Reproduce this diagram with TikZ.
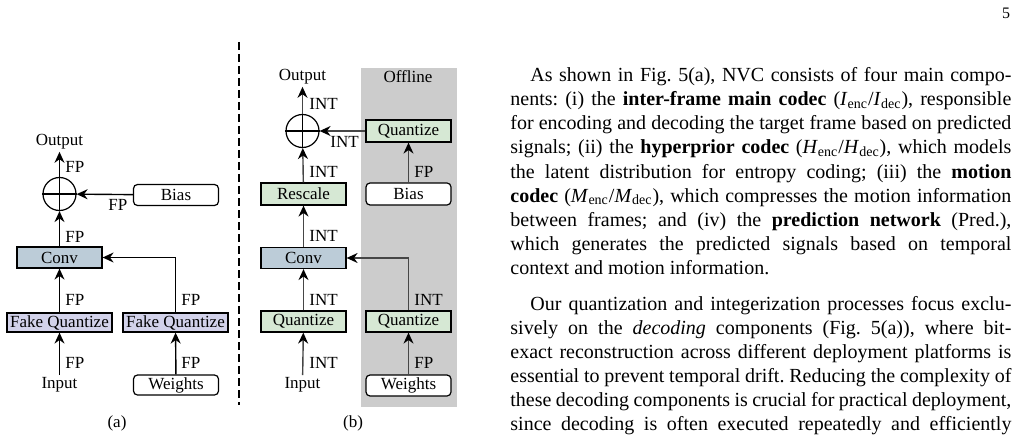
\documentclass[tikz,border=0pt]{standalone}
\usepackage{fontspec}
\setmainfont{Liberation Serif}
\usetikzlibrary{arrows.meta,calc}
\definecolor{convc}{RGB}{188,204,216}
\definecolor{fqc}{RGB}{210,210,234}
\definecolor{qc}{RGB}{214,232,212}
\definecolor{offc}{RGB}{204,204,204}
\definecolor{linec}{RGB}{70,70,70}
\frenchspacing
\begin{document}
\begin{tikzpicture}[x=0.5pt,y=-0.5pt,
 fig/.style={font=\fontsize{8.5}{10}\selectfont},
 blk/.style={fig, draw=black, line width=0.6pt, minimum width=42.5pt, minimum height=10.5pt, inner sep=0pt},
 rbox/.style={blk, rounded corners=2pt, fill=white},
 txt/.style={fig, inner sep=1pt},
 lbl/.style={fig, inner sep=0pt, anchor=west},
 arr/.style={-{Stealth[length=5.5pt,width=5pt,inset=1.8pt,color=black]}, line width=0.7pt},
 arrb/.style={arr, draw=linec},
 plus/.style={draw, circle, minimum size=16.5pt, inner sep=0pt, line width=0.6pt},
 body/.style={font=\fontsize{10}{12}\selectfont, inner sep=0pt, anchor=base west}
]
\useasboundingbox (0,0) rectangle (1020,443);

% ---------------- panel (a)
\node[txt] (outA) at (59.5,142) {Output};
\node[plus] (plusA) at (59.5,194) {};
\draw[line width=0.6pt] (plusA.north) -- (plusA.south) (plusA.west) -- (plusA.east);
\node[rbox] (biasA) at (176,195) {Bias};
\node[blk, fill=convc] (convA) at (59.5,257.5) {Conv};
\node[blk, fill=fqc, minimum width=52.5pt, minimum height=9.5pt] (fqA1) at (59.5,322.5) {Fake Quantize};
\node[blk, fill=fqc, minimum width=52.5pt, minimum height=9.5pt] (fqA2) at (175.5,322.5) {Fake Quantize};
\node[txt] (inA) at (59.5,385) {Input};
\node[rbox, minimum height=10pt] (wA) at (176,385) {Weights};
\node[txt] (capA) at (117,423) {(a)};

\draw[arr] (inA) -- (fqA1);
\draw[arr] (fqA1) -- (convA);
\draw[arr] (convA) -- (plusA);
\draw[arr] (plusA) -- (outA);
\draw[arr] (biasA) -- (plusA);
\draw[arr] (wA) -- (fqA2);
\draw[arr] (fqA2.north) |- (convA.east);

\node[lbl] (la1) at (65,363) {FP};
\node[lbl] (la2) at (65,300) {FP};
\node[lbl] (la3) at (65,237) {FP};
\node[lbl] (la4) at (65,167) {FP};
\node[lbl] (la5) at (108,205) {FP};
\node[lbl] (la6) at (181,363) {FP};
\node[lbl] (la7) at (181,300) {FP};

% dashed separator
\coordinate (sepT) at (239,42);
\coordinate (sepB) at (239,405);
\draw[line width=1pt, dash pattern=on 4pt off 2pt] (sepT) -- (sepB);

% ---------------- panel (b)
\fill[offc] (361,68) rectangle (457,407);
\node[txt] (offl) at (408,77) {Offline};
\node[txt] (outB) at (302.5,77) {Output};
\node[plus] (plusB) at (302.5,131) {};
\draw[line width=0.6pt] (plusB.north) -- (plusB.south) (plusB.west) -- (plusB.east);
\node[blk, fill=qc, minimum height=11pt] (qT) at (408.5,131) {Quantize};
\node[blk, fill=qc, minimum height=11pt] (resc) at (303.5,194) {Rescale};
\node[rbox, minimum height=11pt] (biasB) at (408.5,194) {Bias};
\node[blk, fill=convc] (convB) at (303.5,258) {Conv};
\node[blk, fill=qc] (qB1) at (303.5,321.5) {Quantize};
\node[blk, fill=qc] (qB2) at (408.5,321.5) {Quantize};
\node[txt] (inB) at (302.5,385) {Input};
\node[rbox] (wB) at (408.5,385.5) {Weights};
\node[txt] (capB) at (353,423) {(b)};

\draw[arrb] (inB) -- (qB1);
\draw[arrb] (qB1) -- (convB);
\draw[arrb] (convB) -- (resc);
\draw[arrb] (resc) -- (plusB);
\draw[arrb] (plusB) -- (outB);
\draw[arrb] (qT) -- (plusB);
\draw[arrb] (biasB) -- (qT);
\draw[arrb] (wB) -- (qB2);
\draw[arrb] (qB2.north) |- (convB.east);

\node[lbl] (lb1) at (309,363) {INT};
\node[lbl] (lb2) at (309,300) {INT};
\node[lbl] (lb3) at (309,236) {INT};
\node[lbl] (lb4) at (309,172) {INT};
\node[lbl] (lb5) at (309,104) {INT};
\node[lbl] (lb6) at (330,142) {INT};
\node[lbl] (lb7) at (414,172) {FP};
\node[lbl] (lb8) at (414,363) {FP};
\node[lbl] (lb9) at (414,300) {INT};

% ---------------- body text
\node[font=\fontsize{8}{10}\selectfont, inner sep=0pt] (pg) at (1006,13) {5};

\node[body] (t1) at (530,82) {\makebox[240.5pt][s]{As shown in Fig.\ 5(a), NVC consists of four main compo-}};
\node[body] (t2) at (510,106) {\makebox[250.5pt][s]{nents: (i) the \textbf{inter-frame main codec} (\textit{I}\textsubscript{enc}/\textit{I}\textsubscript{dec}), responsible}};
\node[body] (t3) at (510,130) {\makebox[250.5pt][s]{for encoding and decoding the target frame based on predicted}};
\node[body] (t4) at (510,154) {\makebox[250.5pt][s]{signals; (ii) the \textbf{hyperprior codec} (\textit{H}\textsubscript{enc}/\textit{H}\textsubscript{dec}), which models}};
\node[body] (t5) at (510,178) {\makebox[250.5pt][s]{the latent distribution for entropy coding; (iii) the \textbf{motion}}};
\node[body] (t6) at (510,202) {\makebox[250.5pt][s]{\textbf{codec} (\textit{M}\textsubscript{enc}/\textit{M}\textsubscript{dec}), which compresses the motion information}};
\node[body] (t7) at (510,226) {\makebox[250.5pt][s]{between frames; and (iv) the \textbf{prediction network} (Pred.),}};
\node[body] (t8) at (510,250) {\makebox[250.5pt][s]{which generates the predicted signals based on temporal}};
\node[body] (t9) at (510,274) {context and motion information.};

\node[body] (u1) at (530,310) {\makebox[240.5pt][s]{Our quantization and integerization processes focus exclu-}};
\node[body] (u2) at (510,334) {\makebox[250.5pt][s]{sively on the \textit{decoding} components (Fig.\ 5(a)), where bit-}};
\node[body] (u3) at (510,358) {\makebox[250.5pt][s]{exact reconstruction across different deployment platforms is}};
\node[body] (u4) at (510,382) {\makebox[250.5pt][s]{essential to prevent temporal drift. Reducing the complexity of}};
\node[body] (u5) at (510,406) {\makebox[250.5pt][s]{these decoding components is crucial for practical deployment,}};
\node[body] (u6) at (510,430) {\makebox[250.5pt][s]{since decoding is often executed repeatedly and efficiently}};
\end{tikzpicture}
\end{document}
